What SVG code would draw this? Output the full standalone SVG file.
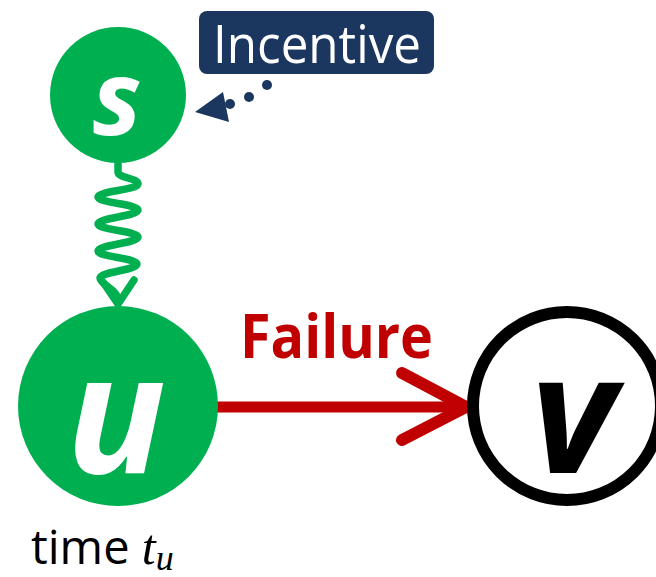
<svg xmlns="http://www.w3.org/2000/svg" width="656" height="577" viewBox="0 0 656 577">
  <defs>
    <style>
      .lbl { font-family: "Open Sans", "Noto Sans", "Liberation Sans", sans-serif; }
      .node-letter { font-family: "Open Sans", "Noto Sans", "Liberation Sans", sans-serif; font-weight: 700; font-style: italic; text-anchor: middle; }
      .math { font-family: "Liberation Serif", "DejaVu Serif", serif; font-style: italic; }
    </style>
  </defs>
  <rect width="656" height="577" fill="#ffffff"/>

  <!-- connectors -->
  <g id="connectors">
    <!-- s to u: wavy line with open arrowhead -->
    <path d="M118,160 V172 C118,178 138,178 138,184 C138,190 98,191 98,197 C98,203 138,204 138,210 C138,216 98,218 98,224 C98,230 138,231 138,237 C138,243 98,245 98,251 C98,257 137,258 137,264 C137,270 100,272 100,278 C100,284 118,290 118,300" fill="none" stroke="#00b050" stroke-width="7.5" stroke-linecap="round" stroke-linejoin="round"/>
    <path d="M103,282 L118,304 L134,280" fill="none" stroke="#00b050" stroke-width="7.5" stroke-linecap="round" stroke-linejoin="miter"/>
    <!-- incentive to s: dotted line with filled head -->
    <g fill="#1b375f">
      <circle cx="267" cy="85" r="5"/>
      <circle cx="249" cy="97" r="5"/>
      <circle cx="230" cy="104" r="5"/>
      <polygon points="195,112 223,92 229,122"/>
    </g>
    <!-- u to v: failure -->
    <line x1="216" y1="407" x2="462" y2="407" stroke="#c00000" stroke-width="11"/>
    <path d="M402,373 L466,407 L402,440" fill="none" stroke="#c00000" stroke-width="12" stroke-linecap="round" stroke-linejoin="miter"/>
    <text class="lbl" x="240" y="358" font-size="60" font-weight="700" fill="#c00000" textLength="193" lengthAdjust="spacingAndGlyphs">Failure</text>
  </g>

  <!-- node s -->
  <g id="node-s">
    <circle cx="118" cy="95" r="68" fill="#00b050"/>
    <text class="node-letter" x="117" y="135" font-size="104" fill="#ffffff">s</text>
  </g>

  <!-- incentive label -->
  <g id="incentive">
    <rect x="199" y="11" width="235" height="63" rx="8" fill="#1b375f"/>
    <text class="lbl" x="213" y="63" font-size="53" fill="#ffffff" textLength="208" lengthAdjust="spacingAndGlyphs">Incentive</text>
  </g>

  <!-- node u -->
  <g id="node-u">
    <circle cx="118" cy="406" r="100" fill="#00b050"/>
    <text class="node-letter" x="116" y="473" font-size="165" fill="#ffffff">u</text>
    <text class="lbl" x="31" y="564" font-size="47" fill="#000000">time <tspan class="math" font-size="50">t</tspan><tspan class="math" font-size="36" dy="6">u</tspan></text>
  </g>

  <!-- node v -->
  <g id="node-v">
    <circle cx="567" cy="406" r="94" fill="#ffffff" stroke="#000000" stroke-width="12"/>
    <text class="node-letter" x="573" y="473" font-size="165" fill="#000000">v</text>
  </g>
</svg>
